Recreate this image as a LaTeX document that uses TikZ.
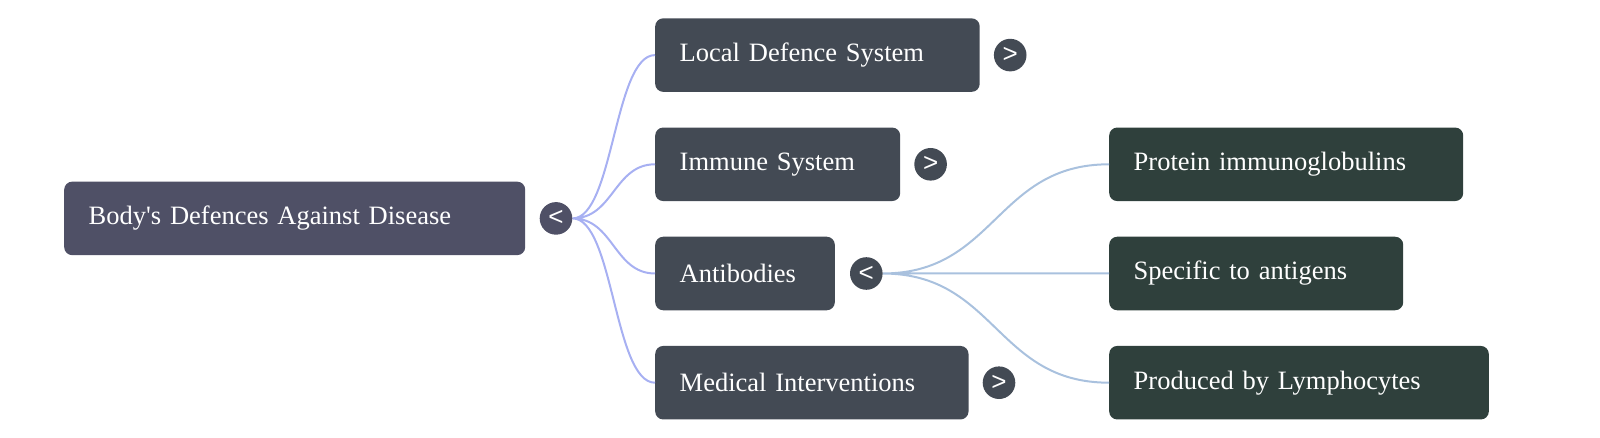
\documentclass[tikz,border=0pt]{standalone}
\usepackage{fontspec}
\setmainfont{Liberation Serif}
\newfontfamily\togglefont{Liberation Sans}
\definecolor{rootfill}{HTML}{4F5066}
\definecolor{branchfill}{HTML}{434A54}
\definecolor{leaffill}{HTML}{2F403C}
\definecolor{rootlink}{HTML}{A7B0F2}
\definecolor{leaflink}{HTML}{A9C1DE}
\begin{document}
\begin{tikzpicture}
  [x=1pt,y=-1pt,
   every node/.style={rounded corners=8pt,text=white,font=\fontsize{26.5}{32}\selectfont,
     inner xsep=24.5pt,inner ysep=0pt,minimum height=73.5pt,align=left,anchor=west},
   root/.style={fill=rootfill},
   branch/.style={fill=branchfill},
   leaf/.style={fill=leaffill},
   toggle/.style={circle,inner sep=0pt,minimum size=32.6pt,anchor=center,
     font=\togglefont\fontsize{26}{26}\selectfont}]
  \useasboundingbox (0,0) rectangle (1600,438);

  \node[root,text width=412pt] (r) at (64,218.4) {Body\textquotesingle s Defences Against Disease};
  \node[branch,text width=275.5pt] (n1) at (655,55.1) {Local Defence System};
  \node[branch,text width=196pt] (n2) at (655,164.3) {Immune System};
  \node[branch,text width=130.6pt] (n3) at (655,273.5) {Antibodies};
  \node[branch,text width=264.3pt] (n4) at (655,382.7) {Medical Interventions};
  \node[leaf,text width=305pt] (l1) at (1109,164.3) {Protein immunoglobulins};
  \node[leaf,text width=245pt] (l2) at (1109,273.5) {Specific to antigens};
  \node[leaf,text width=330.6pt] (l3) at (1109,382.7) {Produced by Lymphocytes};

  \coordinate (r0) at (572.5,218.4);
  \coordinate (a0) at (882.6,273.5);
 \path[draw,rootlink,line width=2pt]
        (r0) .. controls +(41,0) and +(-41,0) .. (n1.west)
        (r0) .. controls +(41,0) and +(-41,0) .. (n2.west)
        (r0) .. controls +(41,0) and +(-41,0) .. (n3.west)
        (r0) .. controls +(41,0) and +(-41,0) .. (n4.west);
 \path[draw,leaflink,line width=2pt]
        (a0) .. controls +(113,0) and +(-113,0) .. (l1.west)
        (a0) -- (l2.west)
        (a0) .. controls +(113,0) and +(-113,0) .. (l3.west);

  \node[toggle,fill=rootfill] (t0) at (556,218.4) {<};
  \node[toggle,fill=branchfill] (t1) at (1010.2,55.1) {>};
  \node[toggle,fill=branchfill] (t2) at (930.6,164.3) {>};
  \node[toggle,fill=branchfill] (t3) at (866.3,273.5) {<};
  \node[toggle,fill=branchfill] (t4) at (999,382.7) {>};

\end{tikzpicture}
\end{document}
